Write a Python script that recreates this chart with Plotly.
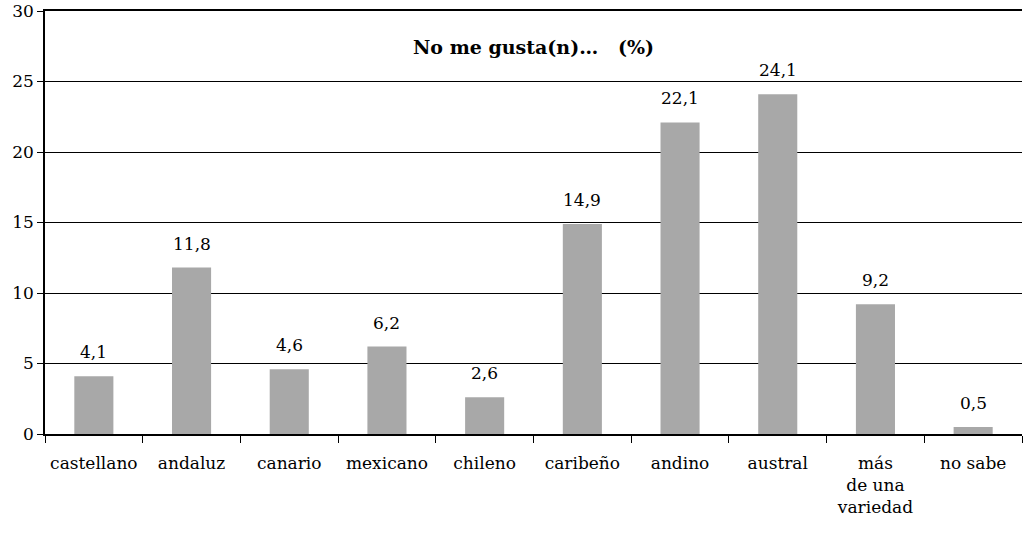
import plotly.graph_objects as go

categorias = ["castellano", "andaluz", "canario", "mexicano", "chileno",
              "caribeño", "andino", "austral", "más<br>de una<br>variedad", "no sabe"]
porcentajes = [4.1, 11.8, 4.6, 6.2, 2.6, 14.9, 22.1, 24.1, 9.2, 0.5]
marcas_y = [0, 5, 10, 15, 20, 25, 30]

fuente = "DejaVu Serif"
negro = "#000000"

fig = go.Figure(go.Bar(
    x=categorias,
    y=porcentajes,
    width=0.4,
    marker=dict(color="#a8a8a8", line=dict(width=0)),
    hoverinfo="x+y",
))

# etiquetas de valor sobre cada barra, con coma decimal
etiquetas = [
    dict(x=c, y=v, text=f"{v:.1f}".replace(".", ","),
         xref="x", yref="y", yanchor="bottom", yshift=12,
         showarrow=False, font=dict(family=fuente, size=17, color=negro))
    for c, v in zip(categorias, porcentajes)
]

titulo = dict(
    text="<b>No me gusta(n)…   (%)</b>",
    xref="paper", yref="paper", x=0.5, y=0.915, yanchor="middle",
    showarrow=False, font=dict(family=fuente, size=19, color=negro),
)

fig.update_layout(
    width=1027, height=533,
    margin=dict(l=45, r=5, t=11, b=99),
    paper_bgcolor="white", plot_bgcolor="white",
    separators=",.",
    showlegend=False,
    font=dict(family=fuente, size=17, color=negro),
    annotations=etiquetas + [titulo],
)

fig.update_xaxes(
    showline=True, linecolor=negro, linewidth=1.5, mirror=True,
    ticks="outside", tickson="boundaries", ticklen=7, tickcolor=negro,
    ticklabelstandoff=13, automargin=False,
    tickfont=dict(family=fuente, size=17, color=negro),
    showgrid=False,
)

fig.update_yaxes(
    range=[0, 30], tickvals=marcas_y,
    showline=True, linecolor=negro, linewidth=1.5,
    ticks="outside", ticklen=6, tickcolor=negro,
    ticklabeloverflow="allow", automargin=False,
    showgrid=True, gridcolor=negro, gridwidth=1,
    zeroline=False,
    tickfont=dict(family=fuente, size=17, color=negro),
)

fig.write_html("out.html")
